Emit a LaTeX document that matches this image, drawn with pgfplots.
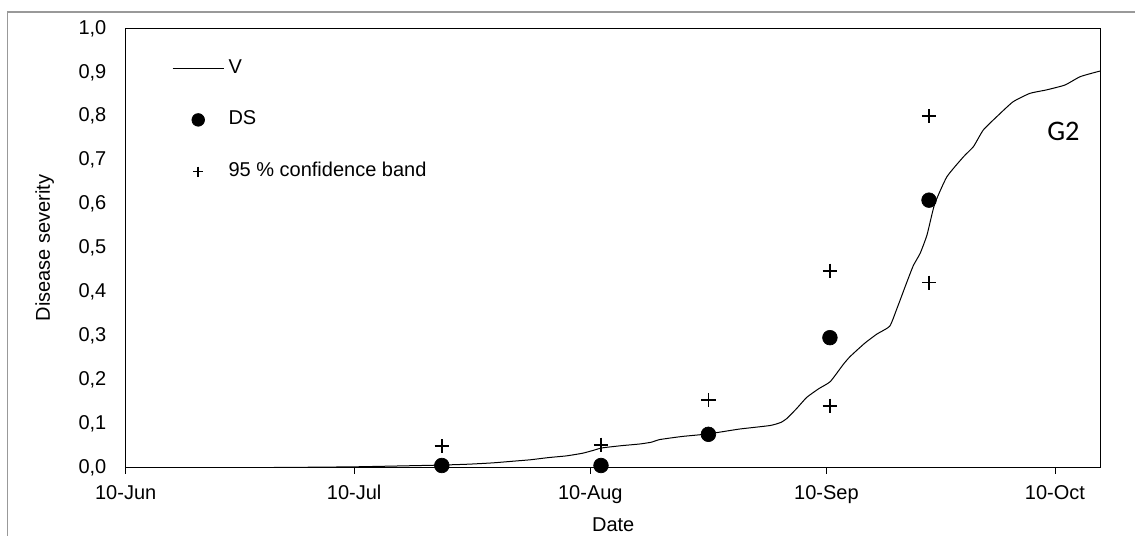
\documentclass[border=0pt]{standalone}
\usepackage{pgfplots}
\pgfplotsset{compat=1.18}
\usepackage{fontspec}
\setmainfont{Liberation Sans}
\newfontfamily\calibri{Carlito}
\pgfplotstableread{
d v
0 0
10 0
20 0.0005
30 0.002
36 0.004
41.5 0.006
45 0.008
48.2 0.011
51 0.015
53.1 0.018
55.5 0.023
57.9 0.027
60 0.033
61.5 0.040
62.5 0.045
65 0.050
67.5 0.054
69 0.058
70.1 0.064
73 0.071
76.5 0.077
80.6 0.088
84.6 0.096
86 0.103
86.8 0.112
88.1 0.135
89.4 0.160
91 0.180
92.5 0.196
94.2 0.235
95.1 0.253
97 0.283
98.6 0.304
100.3 0.322
101.2 0.36
102.5 0.42
103.4 0.46
104.3 0.488
105.2 0.53
106.2 0.60
107.8 0.662
110 0.708
111.3 0.731
112.6 0.769
114.6 0.803
116.5 0.833
118.7 0.852
120.9 0.860
123.3 0.871
125.3 0.890
127.5 0.901
128 0.903
}\curve
\pgfplotstableread{
d v
41.5 0.005
62.4 0.005
76.5 0.076
92.45 0.296
105.46 0.609
}\ds
\pgfplotstableread{
d v
41.5 0.049
62.4 0.052
76.5 0.154
92.45 0.141
92.45 0.448
105.46 0.421
105.46 0.800
}\ci
\pgfplotsset{
  lineleg/.style={legend image code/.code={\draw[##1] (0pt,0pt) -- (30.8pt,0pt);}},
  dotleg/.style={legend image code/.code={\draw[##1, mark size=3.8pt] plot coordinates {(15.4pt,0pt)};}},
  plusleg/.style={legend image code/.code={\draw[##1, mark size=3pt] plot coordinates {(15.4pt,0pt)};}},
}
\begin{document}
\begin{tikzpicture}[font=\fontsize{12pt}{14pt}\selectfont]
\path[use as bounding box] (0,0) rectangle (681pt,321.6pt);
\draw[gray!80, line width=0.9pt] (4.4pt,0pt) -- (4.4pt,314.4pt) -- (681pt,314.4pt);
\begin{axis}[
  at={(75.42pt,40.98pt)}, anchor=south west,
  scale only axis, width=585pt, height=263.6pt,
  xmin=0, xmax=128, ymin=0, ymax=1,
  axis line style={line width=0.8pt},
  xtick={0,30,61,92,122},
  xticklabels={10-Jun,10-Jul,10-Aug,10-Sep,10-Oct},
  ytick={0,0.1,...,1.0},
  tick align=outside,
  major tick length=3.6pt,
  xtick pos=bottom, ytick pos=left,
  x tick style={line width=0.6pt, black},
  y tick style={draw=none},
  /pgf/number format/.cd, fixed, fixed zerofill, precision=1, use comma, assume math mode=true,
  /pgfplots/.cd,
  yticklabel style={xshift=-4.5pt},
  xticklabel style={yshift=-3.5pt},
  xlabel={Date}, ylabel={Disease severity},
  xlabel style={at={(axis description cs:0.5,0)}, anchor=center, yshift=-34.5pt},
  ylabel style={at={(axis description cs:0,0.5)}, anchor=center, yshift=48.6pt},
  legend style={draw=none, fill=none, at={(rel axis cs:0.0472,0.929)}, anchor=north west,
    inner sep=0pt, row sep=21pt, column sep=2.5pt, nodes={inner sep=0pt, text height=8pt, text depth=2pt, xshift=5pt}},
  legend cell align=left,
]
\addplot[black, line width=0.6pt, smooth, tension=0.3, lineleg] table[x=d,y=v]{\curve};
\addlegendentry{V}
\addplot[only marks, mark=*, mark size=4.4pt, black, dotleg] table[x=d,y=v]{\ds};
\addlegendentry{DS}
\addplot[only marks, mark=+, mark size=4.3pt, black, line width=0.9pt, plusleg] table[x=d,y=v]{\ci};
\addlegendentry{95 \% confidence band}
\node[font=\calibri\fontsize{17pt}{19pt}\selectfont] at (axis cs:123.1,0.765) {G2};
\end{axis}
\end{tikzpicture}
\end{document}
